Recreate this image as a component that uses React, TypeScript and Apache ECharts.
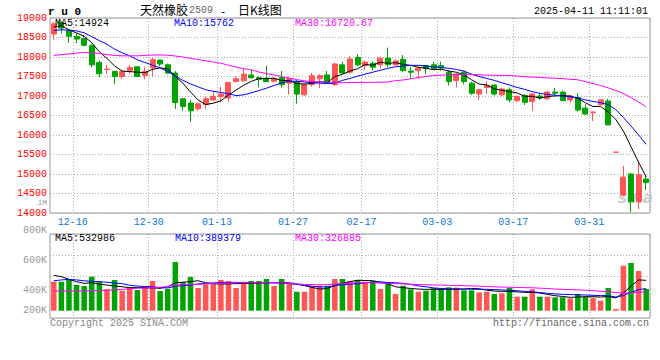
import React, { useEffect, useRef } from 'react';
import * as echarts from 'echarts';

const dates = [
  '2024-12-12','2024-12-13','2024-12-16','2024-12-17','2024-12-18','2024-12-19','2024-12-20','2024-12-23','2024-12-24','2024-12-25','2024-12-26','2024-12-27','2024-12-30','2024-12-31',
  '2025-01-02','2025-01-03','2025-01-06','2025-01-07','2025-01-08','2025-01-09','2025-01-10','2025-01-13','2025-01-14','2025-01-15','2025-01-16','2025-01-17','2025-01-20','2025-01-21','2025-01-22','2025-01-23','2025-01-24','2025-01-27',
  '2025-02-05','2025-02-06','2025-02-07','2025-02-10','2025-02-11','2025-02-12','2025-02-13','2025-02-14','2025-02-17','2025-02-18','2025-02-19','2025-02-20','2025-02-21','2025-02-24','2025-02-25','2025-02-26','2025-02-27','2025-02-28',
  '2025-03-03','2025-03-04','2025-03-05','2025-03-06','2025-03-07','2025-03-10','2025-03-11','2025-03-12','2025-03-13','2025-03-14','2025-03-17','2025-03-18','2025-03-19','2025-03-20','2025-03-21','2025-03-24','2025-03-25','2025-03-26','2025-03-27','2025-03-28','2025-03-31',
  '2025-04-01','2025-04-02','2025-04-03','2025-04-07','2025-04-08','2025-04-09','2025-04-10','2025-04-11'
];

const labeledDates = ['2024-12-16','2024-12-30','2025-01-13','2025-01-27','2025-02-17','2025-03-03','2025-03-17','2025-03-31'];

const openPrices = [
  18590,18880,18680,18530,18470,18290,17860,17680,17630,17500,
  17645,17750,17530,17720,17920,17800,17590,16930,16820,16670,
  16780,16900,16990,16950,17370,17390,17540,17470,17450,17380,
  17470,17330,17370,17030,17290,17440,17540,17290,17800,17610,
  17990,17780,17840,17800,17970,17800,17940,17640,17650,17780,
  17800,17780,17610,17400,17610,17330,17050,17220,17280,17030,
  17160,16880,17010,16860,17000,16930,17100,17100,16900,16960,
  16690,16570,16780,16870,15560,14460,15000,14290,14870
];
const closePrices = [
  18850,18740,18530,18460,18300,17800,17570,17690,17500,17630,
  17730,17500,17630,17930,17820,17590,16830,16730,16620,16800,
  16930,16990,17050,17350,17440,17560,17470,17420,17370,17440,
  17290,17450,17050,17300,17520,17520,17330,17820,17590,17950,
  17800,17870,17740,17970,17800,17900,17650,17610,17710,17700,
  17700,17720,17370,17560,17370,17070,17160,17270,17050,17180,
  16900,16990,16840,17050,16950,17100,17070,16880,17000,16640,
  16540,16590,16900,16260,15560,14920,14290,14980,14780
];
const lowPrices = [
  18440,18600,18360,18350,18270,17740,17480,17560,17310,17430,
  17570,17490,17430,17500,17760,17560,16670,16620,16340,16620,
  16670,16870,16840,16840,17360,17370,17440,17220,17360,17340,
  17220,17030,16800,17010,17240,17200,17320,17260,17560,17580,
  17760,17670,17650,17710,17740,17770,17610,17450,17440,17560,
  17670,17650,17270,17220,17300,17030,16900,17050,17010,17000,
  16840,16840,16770,16620,16900,16900,16990,16870,16820,16600,
  16510,16360,16760,16260,15560,14420,14020,14100,14590
];
const highPrices = [
  18900,18920,18700,18610,18570,18330,17910,17790,17640,17670,
  17800,17760,17740,17980,17930,17830,17640,16930,16900,16830,
  16990,17130,17240,17360,17500,17710,17670,17500,17780,17490,
  17640,17500,17410,17320,17590,17560,17640,17850,17880,18030,
  18070,17910,17890,18010,18240,17940,18050,17750,17760,17800,
  17880,17880,17670,17590,17640,17370,17180,17370,17310,17210,
  17220,17010,17050,17070,17070,17140,17210,17140,17030,17070,
  16790,16600,16910,16930,15560,15210,15020,15340,14960
];

const ma5 = [
  18769,18800,18700,18615,18530,18366,18132,17964,17772,17638,
  17624,17610,17598,17684,17722,17694,17500,17330,17100,16900,
  16782,16814,16878,17024,17152,17278,17374,17448,17452,17452,
  17398,17394,17320,17306,17322,17368,17344,17498,17556,17642,
  17698,17806,17790,17866,17836,17856,17812,17786,17734,17714,
  17674,17688,17640,17610,17544,17418,17306,17286,17184,17146,
  17112,17078,16992,16992,16946,16986,17002,17010,17000,16938,
  16826,16730,16734,16586,16400,16100,15700,15300,14924
];
const ma10 = [
  18680,18697,18690,18670,18620,18520,18420,18330,18200,18110,
  18030,17930,17860,17790,17720,17630,17510,17400,17310,17235,
  17160,17120,17090,17060,17010,17030,17080,17140,17200,17270,
  17340,17380,17380,17360,17340,17330,17320,17330,17400,17450,
  17510,17560,17610,17660,17710,17750,17770,17786,17786,17770,
  17745,17730,17710,17680,17640,17560,17500,17450,17400,17340,
  17280,17220,17170,17110,17070,17040,17020,17000,16980,16950,
  16900,16860,16830,16780,16650,16450,16230,16000,15762
];
const ma30 = [
  18040,18060,18080,18100,18115,18110,18090,18060,18040,18030,
  18030,18030,18040,18050,18055,18045,18025,18000,17965,17935,
  17905,17870,17840,17790,17740,17700,17670,17615,17575,17540,
  17500,17455,17420,17390,17370,17360,17355,17345,17340,17345,
  17350,17350,17350,17355,17360,17395,17410,17440,17475,17500,
  17525,17535,17545,17550,17550,17548,17545,17535,17530,17530,
  17525,17510,17495,17485,17475,17465,17455,17445,17430,17415,
  17370,17320,17270,17210,17140,17060,16960,16850,16720.67
];

const volumes = [
  509000,509000,551000,451000,433000,597000,509000,375000,539000,351000,
  404000,363000,433000,521000,346000,381000,854000,497000,591000,398000,
  463000,480000,539000,521000,398000,491000,521000,521000,556000,433000,
  556000,480000,333000,333000,421000,439000,439000,556000,556000,521000,
  539000,509000,521000,381000,480000,293000,439000,375000,333000,351000,
  398000,398000,410000,404000,357000,357000,322000,333000,293000,305000,
  398000,246000,246000,375000,246000,246000,234000,234000,217000,293000,
  246000,222000,175000,398000,30000,789000,837000,696000,381000
];
const volMa5 = [
  620000,597000,550000,510000,480000,490000,466000,450000,435000,420000,
  405000,405000,404000,400000,393000,420000,490000,500000,510000,526000,
  490000,475000,468000,470000,475000,478000,480000,485000,490000,495000,
  495000,490000,470000,440000,410000,380000,390000,440000,480000,510000,
  535000,530000,526000,500000,470000,420000,404000,390000,380000,375000,
  375000,375000,375000,378000,380000,390000,385000,360000,346000,340000,
  340000,330000,322000,322000,310000,287000,263000,250000,234000,240000,
  246000,246000,240000,250000,225000,310000,430000,540000,532986
];
const volMa10 = [
  526000,540000,550000,540000,525000,515000,509000,500000,485000,475000,
  445000,432000,425000,420000,405000,398000,430000,440000,450000,470000,
  480000,488000,495000,497000,497000,497000,497000,495000,491000,488000,
  485000,475000,463000,445000,430000,420000,415000,440000,455000,465000,
  475000,490000,500000,505000,495000,490000,480000,460000,435000,420000,
  400000,390000,385000,380000,380000,378000,375000,375000,370000,365000,
  360000,350000,340000,330000,320000,305000,295000,287000,283000,280000,
  275000,270000,265000,263000,240000,265000,320000,370000,389379
];
const volMa30 = [
  346000,346000,346000,346000,348000,350000,355000,360000,365000,375000,
  385000,393000,400000,404000,410000,425000,450000,455000,460000,463000,
  470000,478000,480000,485000,490000,491000,491000,491000,491000,491000,
  490000,480000,470000,462000,458000,456000,458000,465000,475000,485000,
  492000,495000,490000,485000,480000,475000,470000,465000,460000,455000,
  450000,450000,445000,440000,440000,435000,430000,425000,420000,415000,
  410000,408000,405000,403000,395000,390000,380000,375000,370000,365000,
  360000,350000,342000,334000,320000,305000,315000,327000,326885
];

const volTickLabels = ['1M', '800K', '600K', '400K', '200K'];

const RED = '#ff5555';
const GREEN = '#00a400';
const GRIDC = '#aaaaaa';
const MONO = '"Liberation Mono", "DejaVu Sans Mono", monospace';
const CJK = '"Noto Sans CJK SC", sans-serif';

export default function App() {
  const ref = useRef<HTMLDivElement>(null);
  useEffect(() => {
    const chart = echarts.init(ref.current as HTMLDivElement, undefined, { renderer: 'svg' });
    const labelIdx = new Set(labeledDates.map((d) => dates.indexOf(d)));
    const isUp = (i: number) => closePrices[i] >= openPrices[i];

    const candleData = dates.map((_, i) => {
      const v = [openPrices[i], closePrices[i], lowPrices[i], highPrices[i]];
      if (openPrices[i] === closePrices[i]) {
        return { value: v, itemStyle: { color: RED, color0: RED, borderColor: RED, borderColor0: RED } };
      }
      return v;
    });
    const volData = volumes.map((v, i) => ({ value: v, itemStyle: { color: isUp(i) ? RED : GREEN } }));

    const dotted = { color: GRIDC, type: [1, 2] as any, width: 1 };
    const splitX = { show: true, interval: (i: number) => labelIdx.has(i - 1), lineStyle: dotted };

    const lineS = (name: string, data: number[], color: string, xi: number, yi: number) => ({
      name, type: 'line', data, xAxisIndex: xi, yAxisIndex: yi, showSymbol: false, symbol: 'none',
      smooth: false, lineStyle: { color, width: 1 }, itemStyle: { color }, z: 5, silent: true,
    });

    const txt = (text: string, x: number, y: number, fill: string, font: string, align = 'left', z = 100) => ({
      type: 'text', x, y, z, silent: true,
      style: { text, fill, font, textAlign: align, align, textVerticalAlign: 'middle', verticalAlign: 'middle' },
    });

    const volLabelY = [202.5, 230.7, 260.7, 290.5, 310.7];
    const volLabelFont = ['8px ' + MONO, '10px ' + MONO, '10px ' + MONO, '10px ' + MONO, '10px ' + MONO];

    chart.setOption({
      animation: false,
      backgroundColor: '#ffffff',
      grid: [
        { left: 50, right: 10, top: 18, height: 195, show: true, borderColor: '#999', borderWidth: 1, backgroundColor: 'transparent' },
        { left: 50, right: 10, top: 234, height: 84, show: true, borderColor: '#999', borderWidth: 1, backgroundColor: 'transparent' },
      ],
      xAxis: [
        {
          type: 'category', gridIndex: 0, data: dates, boundaryGap: true,
          axisLine: { show: false }, axisTick: { show: false },
          axisLabel: {
            interval: (i: number) => labelIdx.has(i),
            formatter: (v: string) => v.slice(5),
            color: '#0a78d6', fontFamily: MONO, fontSize: 10, margin: 4, padding: [0, 0, 0, 7.6],
          },
          splitLine: splitX,
        },
        {
          type: 'category', gridIndex: 1, data: dates, boundaryGap: true,
          axisLine: { show: false }, axisTick: { show: false }, axisLabel: { show: false },
          splitLine: splitX,
        },
      ],
      yAxis: [
        {
          type: 'value', gridIndex: 0, min: 14000, max: 19000, interval: 500,
          axisLine: { show: false }, axisTick: { show: false },
          axisLabel: {
            color: '#ff0000', fontFamily: MONO, fontSize: 10, margin: 3, lineHeight: 9, padding: [0, 0, 3, 0],
            formatter: (v: number) => String(v),
          },
          splitLine: { show: true, lineStyle: dotted },
        },
        { type: 'value', gridIndex: 1, min: -128000, max: 1346000, show: false, splitLine: { show: false } },
        {
          type: 'value', gridIndex: 1, min: 0, max: 4, interval: 1,
          axisLine: { show: false }, axisTick: { show: false }, axisLabel: { show: false },
          splitLine: { show: true, lineStyle: dotted },
        },
      ],
      series: [
        {
          name: 'K', type: 'candlestick', xAxisIndex: 0, yAxisIndex: 0, data: candleData, barWidth: 5.5,
          itemStyle: { color: RED, color0: GREEN, borderColor: RED, borderColor0: GREEN, borderWidth: 1 },
          z: 3, silent: true,
        },
        lineS('MA5', ma5, '#000000', 0, 0),
        lineS('MA10', ma10, '#0000ff', 0, 0),
        lineS('MA30', ma30, '#ff00ff', 0, 0),
        { name: 'VOL', type: 'bar', xAxisIndex: 1, yAxisIndex: 1, data: volData, barWidth: 5.5, z: 3, silent: true },
        lineS('VMA5', volMa5, '#000000', 1, 1),
        lineS('VMA10', volMa10, '#0000ff', 1, 1),
        lineS('VMA30', volMa30, '#ff00ff', 1, 1),
      ],
      graphic: [
        txt('sina', 618, 198, '#cccccc', 'italic bold 15px "DejaVu Sans", sans-serif', 'left', 0),
        txt('r u 0', 48, 11.5, '#000000', 'bold 11px ' + MONO),
        txt('天然橡胶', 140, 9.5, '#000000', '12px ' + CJK),
        txt('2509', 189, 10, '#666666', '10px ' + MONO),
        txt('-', 221, 10, '#000000', '12px ' + CJK),
        txt('日K线图', 238, 9.5, '#000000', '12px ' + CJK),
        txt('2025-04-11 11:11:01', 648, 11.5, '#000000', '10px ' + MONO, 'right'),
        txt('MA5:' + ma5[ma5.length - 1], 55, 23.3, '#000000', '10px ' + MONO),
        txt('MA10:' + ma10[ma10.length - 1], 174, 23.3, '#0000ff', '10px ' + MONO),
        txt('MA30:' + ma30[ma30.length - 1].toFixed(2), 295, 23.3, '#ff00ff', '10px ' + MONO),
        txt('MA5:' + volMa5[volMa5.length - 1], 55, 238.3, '#000000', '10px ' + MONO),
        txt('MA10:' + volMa10[volMa10.length - 1], 175, 238.3, '#0000ff', '10px ' + MONO),
        txt('MA30:' + volMa30[volMa30.length - 1], 295, 238.3, '#ff00ff', '10px ' + MONO),
        ...volTickLabels.map((t, k) => txt(t, 47, volLabelY[k], '#999999', volLabelFont[k], 'right')),
        txt('Copyright 2025 SINA.COM', 50, 323.5, '#888888', '10px ' + MONO),
        txt('http://finance.sina.com.cn', 649, 323.5, '#666666', '10px ' + MONO, 'right'),
      ],
    });
    return () => chart.dispose();
  }, []);
  return <div ref={ref} style={{ position: 'absolute', left: 0, top: 0, width: 660, height: 360 }} />;
}
